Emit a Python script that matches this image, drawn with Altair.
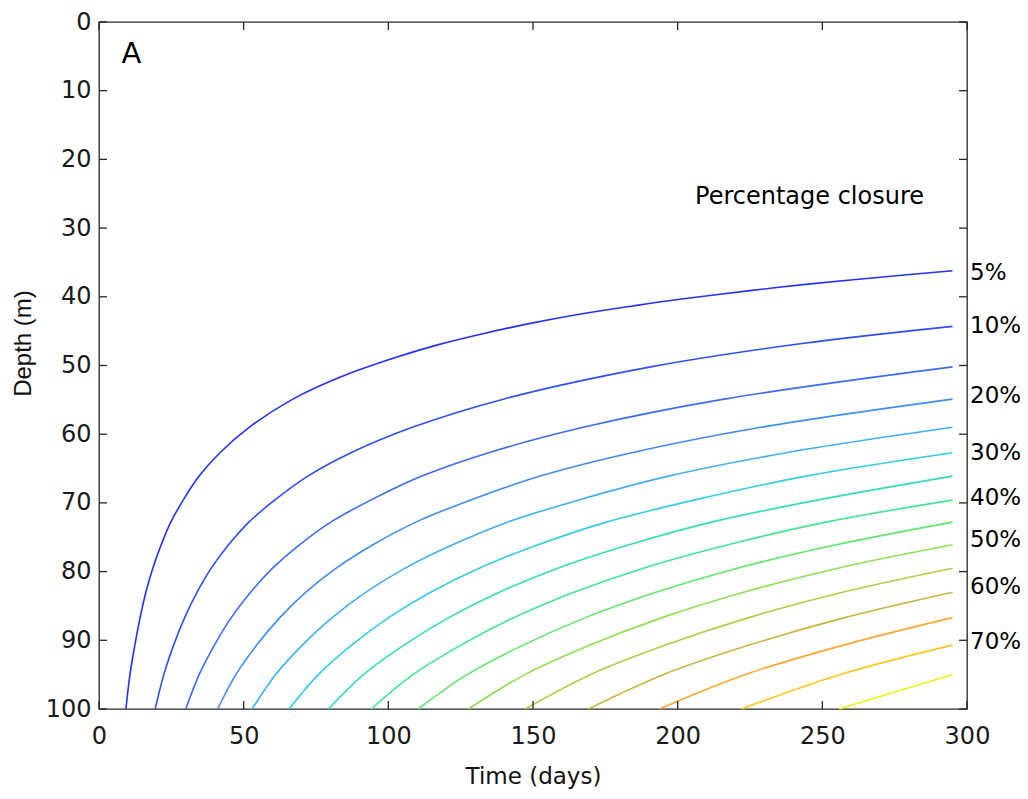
import altair as alt
import pandas as pd

FONT = "DejaVu Sans"
VFONT = "Liberation Sans"
AXIS_COLOR = "#262626"

SERIES = ["5%", "10%", "15%", "20%", "25%", "30%", "35%", "40%",
          "45%", "50%", "55%", "60%", "65%", "70%", "75%"]
COLORS = ["#2233f2", "#2e4ff5", "#3a6cf6", "#3d8cf6", "#3fb0f3", "#33cce2",
          "#33dcbc", "#40e690", "#5de86a", "#8fe052", "#b6cc44", "#ccb43e",
          "#ffa630", "#ffc620", "#f2ee14"]

# depth levels (m) at which the curves are read
DEPTHS = [100, 95.0, 90.7, 86.7, 83.0, 79.5, 76.1, 72.8, 69.6, 66.1,
          62.7, 59.0, 54.9, 50.2, 44.3, 36.2]

# time (days) of each curve at the depth levels above
T05 = [9.3, 10.7, 12.4, 14.2, 16.2, 18.6, 21.5, 24.8, 29.1, 34.6, 41.8, 51.9, 67.0]
T10 = [19.4, 22.4, 25.8, 29.6, 33.9, 38.8, 44.8, 51.8, 60.7, 72.2, 87.1, 108.3, 139.7, 190.7, 295]
T15 = [30.0, 34.6, 39.9, 45.7, 52.4, 60.0, 69.3, 80.1, 93.9, 111.6, 134.7, 167.4, 216.0, 295]
T20 = [41.0, 47.3, 54.5, 62.5, 71.5, 82.0, 94.7, 109.5, 128.3, 152.5, 184.1, 228.8, 295]
T25 = [52.9, 61.0, 70.3, 80.6, 92.3, 105.8, 122.2, 141.2, 165.6, 196.8, 237.5, 295]
T30 = [65.7, 75.8, 87.3, 100.1, 114.6, 131.4, 151.8, 175.4, 205.6, 244.4, 295]
T35 = [79.3, 91.4, 105.4, 120.9, 138.4, 158.6, 183.2, 211.7, 248.2, 295]
T40 = [94.1, 108.5, 125.1, 143.4, 164.2, 188.2, 217.4, 251.2, 295]
T45 = [110.3, 127.2, 146.6, 168.1, 192.5, 220.6, 254.8, 295]
T50 = [127.7, 147.2, 169.7, 194.6, 222.8, 255.4, 295]
T55 = [147.3, 169.8, 195.8, 224.5, 257.0, 295]
T60 = [169.1, 195.0, 224.7, 257.7, 295]
T65 = [193.6, 223.2, 257.3, 295]
T70 = [222.0, 256.0, 295]
T75 = [255.8, 275.4, 295]
T75_D = [100, 97.5, 95.0]

# extra points read on the long upper segments
T05_UPPER = [83, 100.6, 117, 133.4, 150, 168, 185, 200, 225, 245, 270, 295]
D05_UPPER = [51.75, 49.1, 47.0, 45.3, 43.8, 42.4, 41.3, 40.4, 39.1, 38.15, 37.15, 36.2]
EXTRA = {"5%": (T05_UPPER, D05_UPPER),
         "10%": ([243], [46.8])}

ALL_T = [T05, T10, T15, T20, T25, T30, T35, T40, T45, T50, T55, T60, T65, T70, T75]

rows = []
for name, ts in zip(SERIES, ALL_T):
    ds = T75_D if name == "75%" else DEPTHS
    for t, d in zip(ts, ds):
        rows.append({"series": name, "t": t, "d": d})
    if name in EXTRA:
        for t, d in zip(*EXTRA[name]):
            rows.append({"series": name, "t": t, "d": d})
df = pd.DataFrame(rows)

LABELS = ["5%", "10%", "20%", "30%", "40%", "50%", "60%", "70%"]
LABEL_D = [36.6, 44.2, 54.5, 62.7, 69.3, 75.4, 82.3, 90.2]
labels_df = pd.DataFrame({"label": LABELS, "d": LABEL_D})

NOTES = pd.DataFrame({"text": ["Percentage closure", "A"],
                      "t": [206, 7.8], "d": [25.5, 4.7],
                      "size": [24, 29]})

X_TICKS = [0, 50, 100, 150, 200, 250, 300]
Y_TICKS = [0, 10, 20, 30, 40, 50, 60, 70, 80, 90, 100]
xt = pd.DataFrame({"t": X_TICKS})
yt = pd.DataFrame({"d": Y_TICKS})

W, H = 868, 687
TICK = 8

xs = alt.Scale(domain=[0, 300], nice=False, zero=False)
ys = alt.Scale(domain=[0, 100], reverse=True, nice=False, zero=False)

x_axis = alt.Axis(
    values=X_TICKS, title="Time (days)", ticks=False, domain=False, grid=False,
    labelFont=FONT, labelFontSize=24, labelColor="#1a1a1a", labelPadding=15,
    labelFlush=False, labelOverlap=False,
    titleFont=FONT, titleFontSize=23, titleFontWeight="normal", titleColor="#111111",
    titleY=56)
y_axis = alt.Axis(
    values=Y_TICKS, title="Depth (m)", ticks=False, domain=False, grid=False,
    labelFont=FONT, labelFontSize=24, labelColor="#1a1a1a", labelPadding=8,
    labelFlush=False, labelOverlap=False,
    titleFont=VFONT, titleFontSize=24, titleFontWeight="normal", titleColor="#111111",
    titleX=-64, titleY=321)

X = alt.X("t:Q", scale=xs, axis=x_axis)
Y = alt.Y("d:Q", scale=ys, axis=y_axis)

lines = alt.Chart(df).mark_line(strokeWidth=1.6, interpolate="catmull-rom").encode(
    x=X, y=Y,
    color=alt.Color("series:N", scale=alt.Scale(domain=SERIES, range=COLORS), legend=None),
)

rule_style = dict(color=AXIS_COLOR, strokeWidth=1.3)
bottom_ticks = alt.Chart(xt).mark_rule(**rule_style).encode(
    x=X, y=alt.value(H), y2=alt.value(H - TICK))
top_ticks = alt.Chart(xt).mark_rule(**rule_style).encode(
    x=X, y=alt.value(0), y2=alt.value(TICK))
left_ticks = alt.Chart(yt).mark_rule(**rule_style).encode(
    y=Y, x=alt.value(0), x2=alt.value(TICK))
right_ticks = alt.Chart(yt).mark_rule(**rule_style).encode(
    y=Y, x=alt.value(W), x2=alt.value(W - TICK))

pct = alt.Chart(labels_df).mark_text(
    align="left", baseline="middle", dx=3, font=FONT, fontSize=23, color="#000000"
).encode(x=alt.datum(300), y=Y, text="label:N")

notes = alt.Chart(NOTES).mark_text(
    align="left", baseline="middle", font=FONT, color="#000000"
).encode(x=X, y=Y, text="text:N", size=alt.Size("size:Q", scale=None, legend=None))

chart = alt.layer(lines, bottom_ticks, top_ticks, left_ticks, right_ticks, pct, notes).properties(
    width=W, height=H,
    autosize=alt.AutoSizeParams(type="none"),
    padding={"left": 91, "top": 14, "right": 53, "bottom": 80},
).configure(background="white").configure_view(stroke=AXIS_COLOR, strokeWidth=1.3)

chart.save("out.html", embed_options={"renderer": "svg", "actions": False})
